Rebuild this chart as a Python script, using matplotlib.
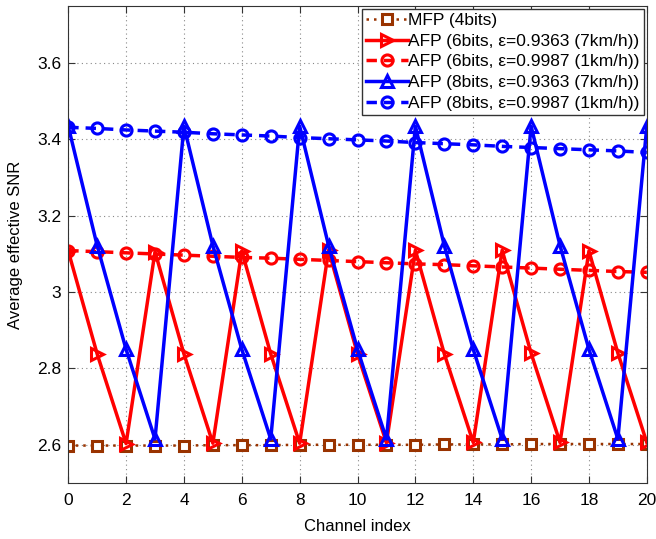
import matplotlib.pyplot as plt
import numpy as np

plt.rcParams['font.family'] = ['Liberation Sans', 'DejaVu Sans']

x = list(range(21))

mfp_4bits = [2.598, 2.598, 2.598, 2.598, 2.598, 2.599, 2.599, 2.599, 2.600, 2.600,
             2.600, 2.600, 2.600, 2.601, 2.601, 2.601, 2.602, 2.602, 2.602, 2.602, 2.602]
afp6_7kmh = [3.108, 2.838, 2.603, 3.106, 2.838, 2.604, 3.108, 2.838, 2.604, 3.110,
             2.838, 2.605, 3.110, 2.838, 2.606, 3.110, 2.840, 2.606, 3.108, 2.840, 2.606]
afp6_1kmh = [3.109, 3.106, 3.103, 3.100, 3.097, 3.094, 3.091, 3.089, 3.086, 3.083,
             3.080, 3.077, 3.074, 3.072, 3.069, 3.066, 3.063, 3.060, 3.057, 3.054, 3.052]
afp8_7kmh = [3.435, 3.122, 2.850, 2.615, 3.435, 3.122, 2.850, 2.615, 3.435, 3.122,
             2.850, 2.615, 3.435, 3.122, 2.850, 2.615, 3.435, 3.122, 2.850, 2.615, 3.435]
afp8_1kmh = [3.432, 3.429, 3.425, 3.422, 3.419, 3.415, 3.412, 3.409, 3.405, 3.402,
             3.399, 3.396, 3.392, 3.389, 3.386, 3.382, 3.379, 3.376, 3.373, 3.370, 3.366]

fig = plt.figure(figsize=(6.56, 5.39), dpi=100)
ax = fig.add_axes([0.104, 0.104, 0.882, 0.885])

brown = '#993300'
ax.plot(x, mfp_4bits, linestyle=(0, (1, 2)), color=brown, linewidth=1.8,
        marker='s', markersize=6.5, markerfacecolor='white', markeredgewidth=2.2,
        label='MFP (4bits)')
ax.plot(x, afp6_7kmh, '-', color='red', linewidth=2.5,
        marker='>', markersize=9, markerfacecolor='none', markeredgewidth=2.2,
        label='AFP (6bits, \u03b5=0.9363 (7km/h))')
ax.plot(x, afp6_1kmh, linestyle=(0, (3, 2)), color='red', linewidth=2.5,
        marker='o', markersize=8, markerfacecolor='none', markeredgewidth=2.2,
        label='AFP (6bits, \u03b5=0.9987 (1km/h))')
ax.plot(x, afp8_7kmh, '-', color='blue', linewidth=2.5,
        marker='^', markersize=9, markerfacecolor='none', markeredgewidth=2.2,
        label='AFP (8bits, \u03b5=0.9363 (7km/h))')
ax.plot(x, afp8_1kmh, linestyle=(0, (3, 2)), color='blue', linewidth=2.5,
        marker='o', markersize=8, markerfacecolor='none', markeredgewidth=2.2,
        label='AFP (8bits, \u03b5=0.9987 (1km/h))')

ax.set_xlim(0, 20)
ax.set_ylim(2.5, 3.75)
ax.set_xticks(range(0, 21, 2))
ax.set_yticks([2.6, 2.8, 3.0, 3.2, 3.4, 3.6])
ax.set_yticklabels(['2.6', '2.8', '3', '3.2', '3.4', '3.6'])
ax.tick_params(axis='x', pad=7)
ax.tick_params(axis='y', pad=5)
ax.tick_params(direction='in', labelsize=12.5, length=5, top=True, right=True, color='#333333')
ax.grid(True, linestyle=(0, (1, 3)), color='#888888', linewidth=0.8)
for s in ax.spines.values():
    s.set_color('#333333')

ax.set_xlabel('Channel index', fontsize=12, labelpad=8)
ax.set_ylabel('Average effective SNR', fontsize=12, labelpad=10)

leg = ax.legend(loc='upper right', fontsize=12.5, handlelength=2.4, handletextpad=0.05,
                labelspacing=0.32, borderpad=0.25, borderaxespad=0.15, fancybox=False,
                framealpha=1, edgecolor='#333333')
leg.get_frame().set_linewidth(1.0)

fig.savefig('out.png', dpi=100)
